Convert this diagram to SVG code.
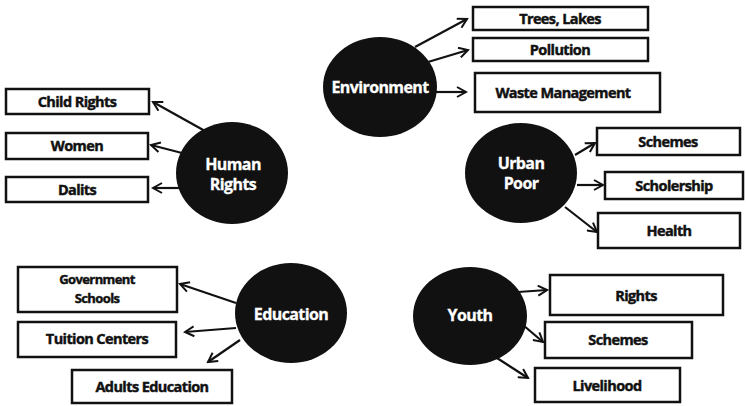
<svg xmlns="http://www.w3.org/2000/svg" width="746" height="406" viewBox="0 0 746 406">
<style>
.box{fill:#fff;stroke:#111;stroke-width:2.5}
.hub{fill:#111}
.bt{font-family:"Open Sans","Liberation Sans",sans-serif;font-weight:bold;font-size:14.5px;fill:#111;stroke:#111;stroke-width:0.45;text-anchor:middle;letter-spacing:-0.6px}
.ht{font-family:"Open Sans","Liberation Sans",sans-serif;font-weight:bold;font-size:16px;fill:#fff;stroke:#fff;stroke-width:0.3;text-anchor:middle;letter-spacing:-0.6px}
.con{stroke:#111;stroke-width:2.2;fill:none;marker-end:url(#ah)}
</style>
<defs>
<marker id="ah" viewBox="0 0 12 12" refX="10" refY="6" markerWidth="12" markerHeight="12" markerUnits="userSpaceOnUse" orient="auto">
<path d="M1,1 L10,6 L1,11" fill="none" stroke="#111" stroke-width="2"/>
</marker>
</defs>
<g id="connectors">
<line class="con" x1="205" y1="131" x2="153" y2="102"/>
<line class="con" x1="182" y1="153" x2="151" y2="145"/>
<line class="con" x1="180" y1="188" x2="153" y2="188"/>
<line class="con" x1="415" y1="47" x2="467" y2="19"/>
<line class="con" x1="428" y1="62" x2="468" y2="50"/>
<line class="con" x1="436" y1="92" x2="466" y2="92"/>
<line class="con" x1="575" y1="155" x2="595" y2="143"/>
<line class="con" x1="577" y1="185" x2="603" y2="185"/>
<line class="con" x1="565" y1="207" x2="597" y2="232"/>
<line class="con" x1="236" y1="303" x2="180" y2="284"/>
<line class="con" x1="236" y1="328" x2="185" y2="332"/>
<line class="con" x1="240" y1="340" x2="208" y2="362"/>
<line class="con" x1="518" y1="292" x2="547" y2="290"/>
<line class="con" x1="523" y1="325" x2="543" y2="342"/>
<line class="con" x1="497" y1="358" x2="528" y2="378"/>
</g>
<g id="human-rights">
<ellipse class="hub" cx="232" cy="173" rx="56" ry="51"/>
<text class="ht" x="233" y="170">Human</text>
<text class="ht" x="233" y="190">Rights</text>
</g>
<g id="child-rights"><rect class="box" x="6" y="89" width="143" height="25"/><text class="bt" x="77" y="107">Child Rights</text></g>
<g id="women"><rect class="box" x="6" y="133" width="142" height="26"/><text class="bt" x="77" y="151">Women</text></g>
<g id="dalits"><rect class="box" x="6" y="177" width="142" height="25"/><text class="bt" x="77" y="195">Dalits</text></g>
<g id="environment">
<ellipse class="hub" cx="380" cy="87" rx="57" ry="50"/>
<text class="ht" x="380" y="93">Environment</text>
</g>
<g id="trees-lakes"><rect class="box" x="473" y="7" width="175" height="23"/><text class="bt" x="560" y="24">Trees, Lakes</text></g>
<g id="pollution"><rect class="box" x="473" y="38" width="175" height="23"/><text class="bt" x="560" y="55">Pollution</text></g>
<g id="waste-management"><rect class="box" x="475" y="73" width="185" height="39"/><text class="bt" x="563" y="98">Waste Management</text></g>
<g id="urban-poor">
<ellipse class="hub" cx="521" cy="173" rx="56" ry="50"/>
<text class="ht" x="521" y="169">Urban</text>
<text class="ht" x="521" y="189">Poor</text>
</g>
<g id="schemes-up"><rect class="box" x="597" y="128" width="143" height="27"/><text class="bt" x="668" y="147">Schemes</text></g>
<g id="scholership"><rect class="box" x="605" y="172" width="138" height="27"/><text class="bt" x="674" y="191">Scholership</text></g>
<g id="health"><rect class="box" x="598" y="213" width="142" height="35"/><text class="bt" x="669" y="236">Health</text></g>
<g id="education">
<ellipse class="hub" cx="291" cy="313" rx="56" ry="50"/>
<text class="ht" x="291" y="320">Education</text>
</g>
<g id="government-schools"><rect class="box" x="18" y="267" width="159" height="45"/><text class="bt" x="97" y="284" style="font-size:13px">Government</text><text class="bt" x="97" y="303" style="font-size:13px">Schools</text></g>
<g id="tuition-centers"><rect class="box" x="18" y="322" width="158" height="35"/><text class="bt" x="97" y="344">Tuition Centers</text></g>
<g id="adults-education"><rect class="box" x="72" y="370" width="160" height="33"/><text class="bt" x="152" y="392">Adults Education</text></g>
<g id="youth">
<ellipse class="hub" cx="470" cy="316" rx="57" ry="49"/>
<text class="ht" x="470" y="321">Youth</text>
</g>
<g id="rights"><rect class="box" x="550" y="275" width="173" height="40"/><text class="bt" x="636" y="301">Rights</text></g>
<g id="schemes-y"><rect class="box" x="545" y="322" width="147" height="36"/><text class="bt" x="618" y="345">Schemes</text></g>
<g id="livelihood"><rect class="box" x="535" y="368" width="145" height="34"/><text class="bt" x="607" y="391">Livelihood</text></g>
</svg>
